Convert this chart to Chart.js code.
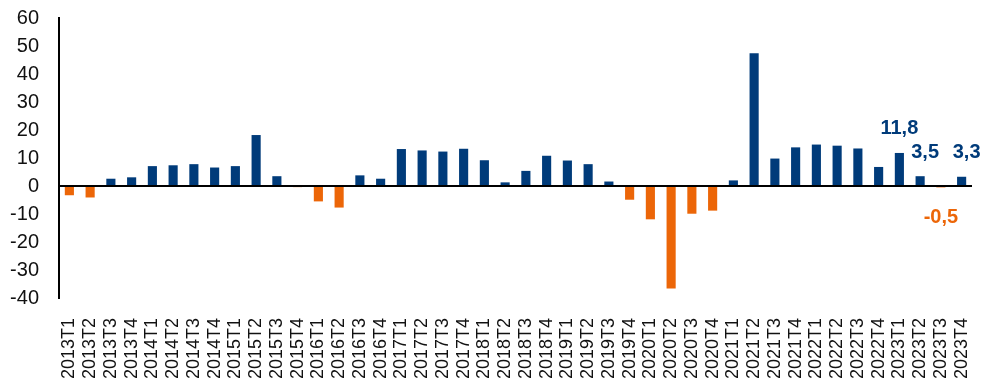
<!DOCTYPE html>
<html>
<head>
<meta charset="utf-8">
<script src="https://cdn.jsdelivr.net/npm/chart.js@4"></script>
<style>
  html, body { margin: 0; padding: 0; background: #fff; }
  #wrap { width: 985px; height: 382px; position: relative; }
</style>
</head>
<body>
<div id="wrap"><canvas id="myChart"></canvas></div>
<script>
const quarters = [
  '2013T1','2013T2','2013T3','2013T4','2014T1','2014T2','2014T3','2014T4',
  '2015T1','2015T2','2015T3','2015T4','2016T1','2016T2','2016T3','2016T4',
  '2017T1','2017T2','2017T3','2017T4','2018T1','2018T2','2018T3','2018T4',
  '2019T1','2019T2','2019T3','2019T4','2020T1','2020T2','2020T3','2020T4',
  '2021T1','2021T2','2021T3','2021T4','2022T1','2022T2','2022T3','2022T4',
  '2023T1','2023T2','2023T3','2023T4'
];
const growth = [
  -3.3, -4.1, 2.6, 3.1, 7.1, 7.4, 7.8, 6.6,
  7.1, 18.2, 3.5, -0.4, -5.5, -7.7, 3.8, 2.6,
  13.2, 12.7, 12.3, 13.3, 9.2, 1.3, 5.4, 10.8,
  9.1, 7.8, 1.6, -4.9, -11.9, -36.6, -9.9, -8.8,
  2.0, 47.4, 9.8, 13.8, 14.8, 14.4, 13.4, 6.8,
  11.8, 3.5, -0.5, 3.3
];
// only the last four quarters carry a value label
const labelledFrom = 40;
const yTicks = [-40, -30, -20, -10, 0, 10, 20, 30, 40, 50, 60];

const blue = '#003B7A';
const orange = '#EC6608';

const valueLabels = {
    id: 'valueLabels',
    afterDatasetsDraw(chart) {
        const c = chart.ctx;
        const meta = chart.getDatasetMeta(0);
        c.save();
        c.font = 'bold 20px "Liberation Sans", Arial, sans-serif';
        c.textAlign = 'center';
        meta.data.forEach((bar, i) => {
            if (i < labelledFrom) return;
            const v = growth[i];
            const txt = v.toFixed(1).replace('.', ',');
            if (v >= 0) {
                c.fillStyle = blue;
                c.textBaseline = 'bottom';
                c.fillText(txt, bar.x + (i === labelledFrom ? 0 : 5), bar.y - 14);
            } else {
                c.fillStyle = orange;
                c.textBaseline = 'top';
                c.fillText(txt, bar.x, bar.y + 20);
            }
        });
        c.restore();
    }
};

document.addEventListener("DOMContentLoaded", function() {
    const ctx = document.getElementById('myChart').getContext('2d');
    new Chart(ctx, {
        type: 'bar',
        data: {
            labels: quarters,
            datasets: [{
                data: growth,
                backgroundColor: growth.map(v => v < 0 ? orange : blue),
                categoryPercentage: 1,
                barPercentage: 0.44
            }]
        },
        options: {
            responsive: true,
            maintainAspectRatio: false,
            animation: false,
            layout: { padding: { top: 18, right: 13, left: 0, bottom: 0 } },
            plugins: { legend: { display: false }, tooltip: { enabled: false } },
            scales: {
                x: {
                    grid: { display: false },
                    border: { display: false },
                    ticks: {
                        autoSkip: false,
                        minRotation: 90,
                        maxRotation: 90,
                        padding: 12,
                        color: '#111',
                        font: { family: '"Liberation Sans", Arial, sans-serif', size: 18 }
                    },
                    afterFit(axis) {
                        // fixed label band, no extra side padding
                        axis.height = 84;
                        axis.paddingLeft = 0;
                        axis.paddingRight = 0;
                    }
                },
                y: {
                    min: -40,
                    max: 60,
                    afterBuildTicks(axis) { axis.ticks = yTicks.map(v => ({ value: v })); },
                    grid: {
                        drawTicks: false,
                        color: c => c.tick && c.tick.value === 0 ? '#000' : 'rgba(0,0,0,0)',
                        lineWidth: 2
                    },
                    border: { display: true, color: '#000', width: 2 },
                    ticks: {
                        autoSkip: false,
                        padding: 20,
                        color: '#111',
                        font: { family: '"Liberation Sans", Arial, sans-serif', size: 20 }
                    },
                    afterFit(axis) {
                        axis.width = 59;
                        axis.paddingTop = 0;
                        axis.paddingBottom = 0;
                    }
                }
            }
        },
        plugins: [valueLabels]
    });
});
</script>
</body>
</html>
